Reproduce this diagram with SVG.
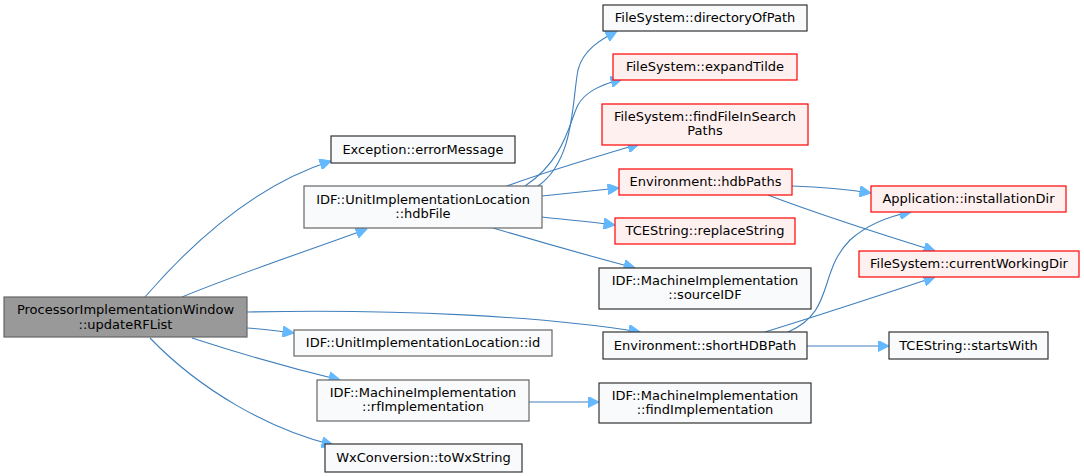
<svg xmlns="http://www.w3.org/2000/svg" width="1084" height="476" viewBox="0 0 1084 476">
<defs>
<style>
.n rect{fill:#F9FAFB;stroke:#333333;stroke-width:1.2}
.g rect{fill:#F9FAFB;stroke:#666666;stroke-width:1.2}
.r rect{fill:#FFF0F0;stroke:#FF0000;stroke-width:1.2}
.m rect{fill:#999999;stroke:#666666;stroke-width:1.2}
text{font-family:"DejaVu Sans","Liberation Sans",sans-serif;font-size:13px;fill:#000;text-anchor:middle}
.e path{fill:none;stroke:#4080bd;stroke-width:1.1}
</style>
<marker id="a" viewBox="0 0 10 10" refX="10" refY="5" markerWidth="12" markerHeight="11" markerUnits="userSpaceOnUse" orient="auto">
<path d="M0,0 L10,5 L0,10 Z" fill="#63B8FF" stroke="#63B8FF"/>
</marker>
</defs>
<rect width="1084" height="476" fill="#ffffff"/>
<g class="e">
<path marker-end="url(#a)" d="M145,297 C190,245 255,185 331,161"/>
<path marker-end="url(#a)" d="M182,297 C240,273 310,250 367,229"/>
<path marker-end="url(#a)" d="M247,312 C400,309 540,316 640,332"/>
<path marker-end="url(#a)" d="M247,328 C262,329 278,331 294,333"/>
<path marker-end="url(#a)" d="M192,338 C235,352 290,368 340,380"/>
<path marker-end="url(#a)" d="M150,338 C200,390 270,430 333,445"/>
<path marker-end="url(#a)" d="M538,186 C575,160 572,100 578,70 C583,50 600,40 617,31"/>
<path marker-end="url(#a)" d="M525,186 C565,160 570,120 578,105 C585,92 600,85 622,79"/>
<path marker-end="url(#a)" d="M507,186 C545,172 595,157 639,144"/>
<path marker-end="url(#a)" d="M542,196 C570,193 590,191 619,188"/>
<path marker-end="url(#a)" d="M542,217 C570,220 590,222 615,225"/>
<path marker-end="url(#a)" d="M493,228 C540,242 590,256 635,268"/>
<path marker-end="url(#a)" d="M792,186 C820,187 845,189 871,193"/>
<path marker-end="url(#a)" d="M768,195 C820,215 890,237 935,251"/>
<path marker-end="url(#a)" d="M788,332 C835,312 818,272 850,240 C868,224 890,216 911,212"/>
<path marker-end="url(#a)" d="M765,332 C820,315 890,292 935,277"/>
<path marker-end="url(#a)" d="M807,346 L889,346"/>
<path marker-end="url(#a)" d="M529,402 L599,402"/>
</g>
<g id="updateRFList" class="m"><rect x="4" y="297" width="243" height="40"/><text x="125.5" y="314">ProcessorImplementationWindow</text><text x="125.5" y="329">::updateRFList</text></g>
<g id="errorMessage" class="n"><rect x="331" y="136" width="184" height="27"/><text x="423" y="154">Exception::errorMessage</text></g>
<g id="hdbFile" class="g"><rect x="304" y="186" width="238" height="42"/><text x="423" y="204">IDF::UnitImplementationLocation</text><text x="423" y="218">::hdbFile</text></g>
<g id="directoryOfPath" class="n"><rect x="603" y="5" width="204" height="26"/><text x="705" y="22">FileSystem::directoryOfPath</text></g>
<g id="expandTilde" class="r"><rect x="613" y="54" width="184" height="26"/><text x="705" y="71">FileSystem::expandTilde</text></g>
<g id="findFileInSearchPaths" class="r"><rect x="602" y="104" width="206" height="41"/><text x="705" y="121">FileSystem::findFileInSearch</text><text x="705" y="135">Paths</text></g>
<g id="hdbPaths" class="r"><rect x="619" y="169" width="173" height="26"/><text x="705.5" y="186">Environment::hdbPaths</text></g>
<g id="replaceString" class="r"><rect x="615" y="218" width="180" height="26"/><text x="705" y="235">TCEString::replaceString</text></g>
<g id="sourceIDF" class="n"><rect x="599" y="268" width="212" height="41"/><text x="705" y="285">IDF::MachineImplementation</text><text x="705" y="299">::sourceIDF</text></g>
<g id="shortHDBPath" class="n"><rect x="603" y="332" width="204" height="27"/><text x="705" y="350">Environment::shortHDBPath</text></g>
<g id="findImplementation" class="n"><rect x="599" y="383" width="212" height="40"/><text x="705" y="400">IDF::MachineImplementation</text><text x="705" y="414">::findImplementation</text></g>
<g id="installationDir" class="r"><rect x="871" y="186" width="195" height="26"/><text x="968.5" y="203">Application::installationDir</text></g>
<g id="currentWorkingDir" class="r"><rect x="859" y="251" width="220" height="26"/><text x="969" y="268">FileSystem::currentWorkingDir</text></g>
<g id="startsWith" class="n"><rect x="889" y="332" width="159" height="27"/><text x="968.5" y="350">TCEString::startsWith</text></g>
<g id="unitId" class="g"><rect x="294" y="330" width="258" height="26"/><text x="423" y="347">IDF::UnitImplementationLocation::id</text></g>
<g id="rfImplementation" class="g"><rect x="317" y="380" width="212" height="41"/><text x="423" y="397">IDF::MachineImplementation</text><text x="423" y="411">::rfImplementation</text></g>
<g id="toWxString" class="n"><rect x="325" y="444" width="197" height="28"/><text x="423.5" y="462">WxConversion::toWxString</text></g>
</svg>
